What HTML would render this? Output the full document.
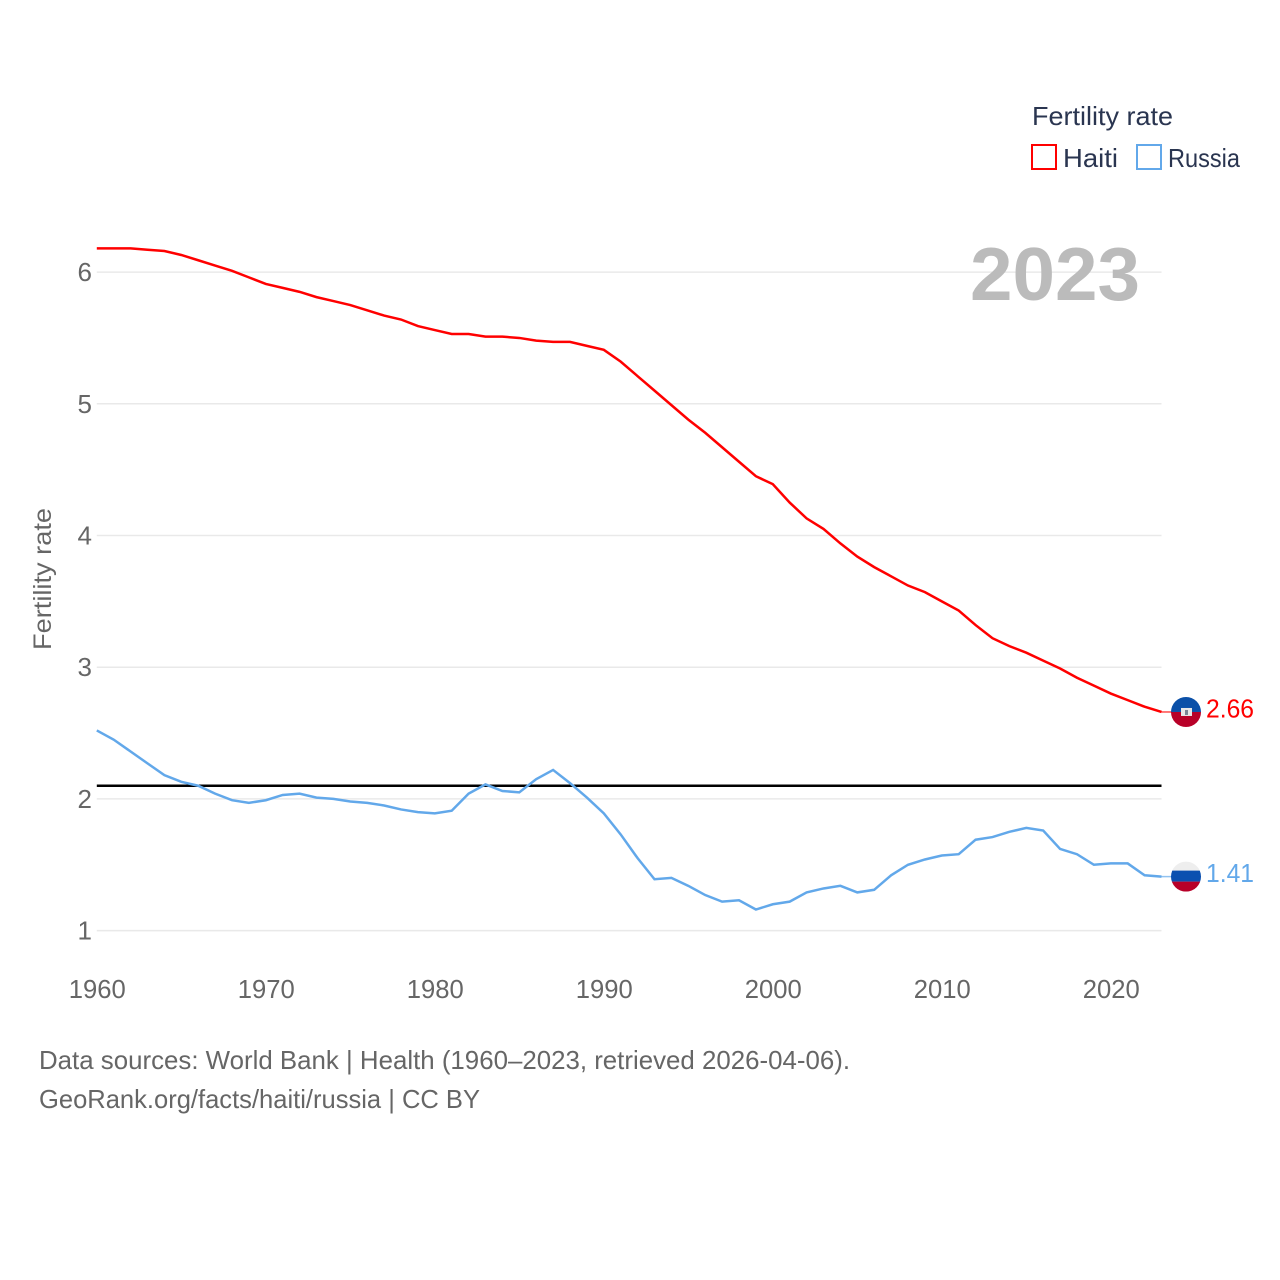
<!DOCTYPE html>
<html lang="en">
<head>
<meta charset="utf-8">
<title>Fertility rate: Haiti vs Russia</title>
<style>
html,body{margin:0;padding:0;background:#fff;width:1280px;height:1280px;overflow:hidden}
svg{display:block}
text{font-family:"Liberation Sans",sans-serif}
</style>
</head>
<body>
<svg id="chart" xmlns="http://www.w3.org/2000/svg" width="1280" height="1280" viewBox="0 0 1280 1280">
  <rect x="0" y="0" width="1280" height="1280" fill="#ffffff"/>
  <g id="grid"></g>
  <g id="yticks"></g>
  <g id="xticks"></g>
  <text x="970" y="300" font-size="75" font-weight="700" fill="#bbbbbb" textLength="170" lengthAdjust="spacingAndGlyphs">2023</text>
  <g id="series"></g>
  <text transform="translate(51,650) rotate(-90)" font-size="25" fill="#666666" textLength="142" lengthAdjust="spacingAndGlyphs">Fertility rate</text>

  <g>
    <text x="1032" y="125" font-size="26" fill="#2a3550" textLength="141" lengthAdjust="spacingAndGlyphs">Fertility rate</text>
    <rect x="1032" y="145" width="24" height="24" fill="none" stroke="#ff0000" stroke-width="2"/>
    <text x="1063" y="167" font-size="26" fill="#2a3550" textLength="55" lengthAdjust="spacingAndGlyphs">Haiti</text>
    <rect x="1137" y="145" width="24" height="24" fill="none" stroke="#62a8ea" stroke-width="2"/>
    <text x="1168" y="167" font-size="26" fill="#2a3550" textLength="72" lengthAdjust="spacingAndGlyphs">Russia</text>
  </g>

  <defs>
    <clipPath id="clip-haiti"><circle id="clip-haiti-circle" cx="1186" cy="712" r="15"/></clipPath>
    <clipPath id="clip-russia"><circle id="clip-russia-circle" cx="1186" cy="877" r="15"/></clipPath>
  </defs>
  <g id="flag-haiti">
    <g clip-path="url(#clip-haiti)">
      <rect x="1171" y="697" width="30" height="15" fill="#0b50a8"/>
      <rect x="1171" y="712" width="30" height="15" fill="#b80028"/>
      <rect x="1181" y="708" width="11" height="8" fill="#e8e8e8"/>
      <rect x="1185" y="710" width="3" height="5" fill="#7a8494"/>
    </g>
  </g>
  <g id="flag-russia">
    <g clip-path="url(#clip-russia)">
      <rect x="1171" y="862" width="30" height="10" fill="#eeeeee"/>
      <rect x="1171" y="871" width="30" height="11" fill="#0b50b0"/>
      <rect x="1171" y="882" width="30" height="10" fill="#b80028"/>
    </g>
  </g>
  <text id="value-haiti" x="1206" y="717" font-size="26" fill="#ff0000" textLength="48" lengthAdjust="spacingAndGlyphs"></text>
  <text id="value-russia" x="1206" y="882" font-size="26" fill="#62a8ea" textLength="48" lengthAdjust="spacingAndGlyphs"></text>

  <text x="39" y="1069" font-size="26" fill="#666666" textLength="811" lengthAdjust="spacingAndGlyphs">Data sources: World Bank | Health (1960–2023, retrieved 2026-04-06).</text>
  <text x="39" y="1108" font-size="26" fill="#666666" textLength="441" lengthAdjust="spacingAndGlyphs">GeoRank.org/facts/haiti/russia | CC BY</text>
</svg>
<script>
const startYear = 1960;
const haitiValues = [6.18,6.18,6.18,6.17,6.16,6.13,6.09,6.05,6.01,5.96,5.91,5.88,5.85,5.81,5.78,5.75,5.71,5.67,5.64,5.59,5.56,5.53,5.53,5.51,5.51,5.50,5.48,5.47,5.47,5.44,5.41,5.32,5.21,5.10,4.99,4.88,4.78,4.67,4.56,4.45,4.39,4.25,4.13,4.05,3.94,3.84,3.76,3.69,3.62,3.57,3.50,3.43,3.32,3.22,3.16,3.11,3.05,2.99,2.92,2.86,2.80,2.75,2.70,2.66];
const russiaValues = [2.52,2.45,2.36,2.27,2.18,2.13,2.10,2.04,1.99,1.97,1.99,2.03,2.04,2.01,2.00,1.98,1.97,1.95,1.92,1.90,1.89,1.91,2.04,2.11,2.06,2.05,2.15,2.22,2.12,2.01,1.89,1.73,1.55,1.39,1.40,1.34,1.27,1.22,1.23,1.16,1.20,1.22,1.29,1.32,1.34,1.29,1.31,1.42,1.50,1.54,1.57,1.58,1.69,1.71,1.75,1.78,1.76,1.62,1.58,1.50,1.51,1.51,1.42,1.41];
const yTicks = [1,2,3,4,5,6];
const xTicks = [1960,1970,1980,1990,2000,2010,2020];
const replacementRate = 2.1;

const NS = 'http://www.w3.org/2000/svg';
const xScale = function (year) { return 96.8 + (year - 1960) * 16.9; };
const yScale = function (v) { return 930.6 - (v - 1) * 131.7; };

function make(tag, parent) {
  const el = document.createElementNS(NS, tag);
  parent.appendChild(el);
  return el;
}

const gridG = document.getElementById('grid');
const yG = document.getElementById('yticks');
const xG = document.getElementById('xticks');
const seriesG = document.getElementById('series');
const lastYear = startYear + haitiValues.length - 1;

yTicks.forEach(function (t) {
  const line = make('line', gridG);
  
  
  line.setAttribute('x1', xScale(startYear));
  line.setAttribute('x2', xScale(lastYear));
  line.setAttribute('y1', yScale(t));
  line.setAttribute('y2', yScale(t));
  line.setAttribute('stroke', '#e9e9e9');
  line.setAttribute('stroke-width', '1.5');

  const label = make('text', yG);
  
  
  label.setAttribute('x', 92);
  label.setAttribute('y', yScale(t) + 9);
  label.setAttribute('text-anchor', 'end');
  label.setAttribute('font-size', '26');
  label.setAttribute('fill', '#666666');
  label.textContent = t;
});

xTicks.forEach(function (t) {
  const label = make('text', xG);
  
  
  label.setAttribute('x', xScale(t) + 0.5);
  label.setAttribute('y', 998);
  label.setAttribute('text-anchor', 'middle');
  label.setAttribute('font-size', '26');
  label.setAttribute('fill', '#666666');
  label.setAttribute('textLength', '57');
  label.setAttribute('lengthAdjust', 'spacingAndGlyphs');
  label.textContent = t;
});

function pathFor(values) {
  return values.map(function (v, i) {
    return (i ? 'L' : 'M') + xScale(startYear + i).toFixed(2) + ' ' + yScale(v).toFixed(2);
  }).join(' ');
}

const refLine = make('line', seriesG);


refLine.setAttribute('x1', xScale(startYear));
refLine.setAttribute('x2', xScale(lastYear));
refLine.setAttribute('y1', yScale(replacementRate));
refLine.setAttribute('y2', yScale(replacementRate));
refLine.setAttribute('stroke', '#000000');
refLine.setAttribute('stroke-width', '2.5');

const haitiPath = make('path', seriesG);


haitiPath.setAttribute('d', pathFor(haitiValues));
haitiPath.setAttribute('fill', 'none');
haitiPath.setAttribute('stroke', '#ff0000');
haitiPath.setAttribute('stroke-width', '2.5');

const russiaPath = make('path', seriesG);


russiaPath.setAttribute('d', pathFor(russiaValues));
russiaPath.setAttribute('fill', 'none');
russiaPath.setAttribute('stroke', '#62a8ea');
russiaPath.setAttribute('stroke-width', '2.5');

const haitiLast = haitiValues[haitiValues.length - 1];
const russiaLast = russiaValues[russiaValues.length - 1];

const haitiLink = make('line', seriesG);


haitiLink.setAttribute('x1', xScale(lastYear));
haitiLink.setAttribute('x2', 1172);
haitiLink.setAttribute('y1', yScale(haitiLast));
haitiLink.setAttribute('y2', yScale(haitiLast));
haitiLink.setAttribute('stroke', '#ff0000');
haitiLink.setAttribute('stroke-opacity', '0.7');
haitiLink.setAttribute('stroke-width', '1.5');

const russiaLink = make('line', seriesG);


russiaLink.setAttribute('x1', xScale(lastYear));
russiaLink.setAttribute('x2', 1172);
russiaLink.setAttribute('y1', yScale(russiaLast));
russiaLink.setAttribute('y2', yScale(russiaLast));
russiaLink.setAttribute('stroke', '#62a8ea');
russiaLink.setAttribute('stroke-opacity', '0.7');
russiaLink.setAttribute('stroke-width', '1.5');

const baseHaitiY = 712;
const baseRussiaY = 877;
document.getElementById('flag-haiti').setAttribute('transform', 'translate(0,' + (yScale(haitiLast) - baseHaitiY) + ')');
document.getElementById('flag-russia').setAttribute('transform', 'translate(0,' + (yScale(russiaLast) - baseRussiaY) + ')');

const haitiValueLabel = document.getElementById('value-haiti');
haitiValueLabel.textContent = haitiLast.toFixed(2);
haitiValueLabel.setAttribute('y', yScale(haitiLast) + 5.4);
const russiaValueLabel = document.getElementById('value-russia');
russiaValueLabel.textContent = russiaLast.toFixed(2);
russiaValueLabel.setAttribute('y', yScale(russiaLast) + 5.4);
</script>
</body>
</html>
